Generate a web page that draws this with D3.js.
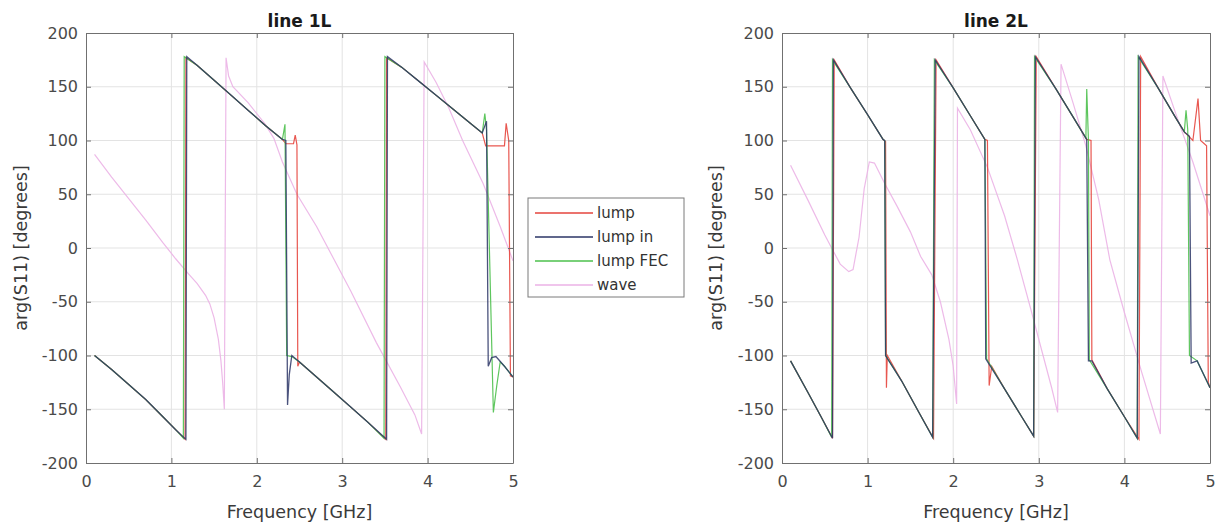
<!DOCTYPE html>
<html>
<head>
<meta charset="utf-8">
<script src="https://cdn.jsdelivr.net/npm/d3@7"></script>
<style>
  body { margin: 0; background: #fff; }
</style>
</head>
<body>
<div id="container"></div>
<script>
var freqTicks = [0, 1, 2, 3, 4, 5];
var degTicks = [-200, -150, -100, -50, 0, 50, 100, 150, 200];
var seriesNames = ["lump", "lump in", "lump FEC", "wave"];
var seriesColors = ["#e5453d", "#2b3566", "#4cc04c", "#ebb2e6"];

// line 1L, [frequency GHz, arg(S11) degrees]
var lump1L = [[0.1,-100],[0.3,-113],[0.5,-127],[0.7,-141],[0.9,-157],[1.05,-169],[1.16,-178],[1.17,177],[1.3,170],[1.5,156],[1.7,142],[1.9,128],[2.1,114],[2.3,101],[2.34,97],[2.43,97],[2.45,105],[2.47,96],[2.48,-110],[2.5,-106],[2.7,-120],[2.9,-134],[3.1,-148],[3.3,-162],[3.51,-178],[3.52,177],[3.7,168],[3.9,155],[4.1,142],[4.3,129],[4.5,116],[4.64,107],[4.68,95],[4.9,95],[4.92,116],[4.95,100],[4.97,-119],[5.0,-120]];
var lumpIn1L = [[0.1,-100],[0.3,-113],[0.5,-127],[0.7,-141],[0.9,-157],[1.05,-169],[1.17,-178],[1.18,178],[1.3,170],[1.5,156],[1.7,142],[1.9,128],[2.1,114],[2.3,101],[2.34,100],[2.36,-146],[2.38,-118],[2.41,-100],[2.5,-106],[2.7,-120],[2.9,-134],[3.1,-148],[3.3,-162],[3.52,-178],[3.53,178],[3.7,168],[3.9,155],[4.1,142],[4.3,129],[4.5,116],[4.64,107],[4.69,118],[4.71,-110],[4.75,-102],[4.8,-101],[4.9,-110],[5.0,-120]];
var lumpFEC1L = [[0.1,-100],[0.3,-113],[0.5,-127],[0.7,-141],[0.9,-157],[1.05,-169],[1.14,-177],[1.15,178],[1.3,170],[1.5,156],[1.7,142],[1.9,128],[2.1,114],[2.3,101],[2.33,115],[2.35,-100],[2.41,-101],[2.5,-106],[2.7,-120],[2.9,-134],[3.1,-148],[3.3,-162],[3.49,-177],[3.5,178],[3.7,168],[3.9,155],[4.1,142],[4.3,129],[4.5,116],[4.64,107],[4.67,125],[4.69,110],[4.77,-153],[4.81,-128],[4.85,-106],[4.9,-110],[5.0,-120]];
var wave1L = [[0.1,87],[0.3,66],[0.5,46],[0.7,26],[0.9,5],[1.05,-10],[1.2,-24],[1.3,-33],[1.4,-44],[1.45,-52],[1.5,-65],[1.55,-85],[1.58,-105],[1.6,-125],[1.62,-150],[1.64,177],[1.67,160],[1.72,150],[1.9,135],[2.1,115],[2.2,102],[2.3,80],[2.47,50],[2.7,20],[2.9,-10],[3.1,-40],[3.4,-88],[3.68,-129],[3.85,-155],[3.93,-173],[3.96,173],[4.1,154],[4.25,130],[4.41,100],[4.65,60],[4.85,20],[5.0,-12]];

// line 2L
var lump2L = [[0.1,-105],[0.3,-134],[0.45,-156],[0.59,-177],[0.61,175],[0.8,149],[1.0,124],[1.18,101],[1.21,99],[1.22,-130],[1.23,-100],[1.4,-124],[1.6,-153],[1.77,-177],[1.8,175],[2.0,149],[2.2,123],[2.37,101],[2.4,100],[2.42,-128],[2.45,-110],[2.6,-131],[2.8,-157],[2.94,-175],[2.97,178],[3.2,148],[3.4,122],[3.56,101],[3.61,100],[3.62,-104],[3.8,-131],[4.0,-157],[4.17,-178],[4.19,178],[4.4,148],[4.6,121],[4.7,108],[4.8,100],[4.86,139],[4.89,100],[4.96,95],[4.98,-125],[5.0,-130]];
var lumpIn2L = [[0.1,-105],[0.3,-134],[0.45,-156],[0.59,-177],[0.6,175],[0.8,149],[1.0,124],[1.18,101],[1.2,100],[1.21,-100],[1.4,-124],[1.6,-153],[1.76,-176],[1.79,175],[2.0,149],[2.2,123],[2.37,101],[2.38,-103],[2.6,-131],[2.8,-157],[2.94,-175],[2.96,178],[3.2,148],[3.4,122],[3.56,101],[3.58,-105],[3.62,-105],[3.8,-131],[4.0,-157],[4.15,-177],[4.17,178],[4.4,148],[4.6,121],[4.7,108],[4.76,104],[4.78,-107],[4.85,-105],[5.0,-130]];
var lumpFEC2L = [[0.1,-105],[0.3,-134],[0.45,-156],[0.58,-176],[0.59,175],[0.8,149],[1.0,124],[1.18,101],[1.2,100],[1.21,-100],[1.4,-124],[1.6,-153],[1.76,-176],[1.78,175],[2.0,149],[2.2,123],[2.37,101],[2.39,-103],[2.6,-131],[2.8,-157],[2.94,-175],[2.95,178],[3.2,148],[3.4,122],[3.55,102],[3.56,148],[3.58,100],[3.59,-104],[3.8,-131],[4.0,-157],[4.15,-177],[4.16,178],[4.4,148],[4.6,121],[4.7,108],[4.72,128],[4.74,110],[4.76,-100],[4.85,-105],[5.0,-130]];
var wave2L = [[0.1,77],[0.3,45],[0.5,12],[0.58,0],[0.68,-15],[0.78,-22],[0.83,-20],[0.9,10],[0.96,55],[1.02,80],[1.08,79],[1.2,60],[1.35,38],[1.5,15],[1.62,-8],[1.75,-25],[1.85,-50],[1.95,-85],[2.0,-110],[2.04,-145],[2.05,130],[2.2,110],[2.4,75],[2.6,30],[2.75,-11],[2.9,-55],[3.05,-100],[3.15,-130],[3.22,-153],[3.26,171],[3.4,135],[3.55,95],[3.7,45],[3.83,-11],[4.0,-60],[4.2,-115],[4.42,-173],[4.45,160],[4.6,125],[4.8,80],[5.0,30]];

var font = "DejaVu Sans, sans-serif";
var axisColor = "#707070";
var gridColor = "#e3e3e3";
var plotTop = 33, plotBottom = 463;

var svg = d3
  .select("#container")
  .append("svg")
  .attr("width", 1221)
  .attr("height", 531)
  .style("display", "block")
  .style("background-color", "#fff");

var panels = [
  { title: "line 1L", left: 86, right: 513, labelX: 27, series: [lump1L, lumpIn1L, lumpFEC1L, wave1L] },
  { title: "line 2L", left: 782, right: 1210, labelX: 722, series: [lump2L, lumpIn2L, lumpFEC2L, wave2L] }
];

// MATLAB prints a plain hyphen for negatives
var plainNum = d => String(d);

function styleAxis(sel) {
  sel.attr("font-family", font).attr("font-size", 16);
  sel.select(".domain").attr("stroke", axisColor);
  sel.selectAll(".tick line").attr("stroke", axisColor);
  sel.selectAll(".tick text").attr("fill", "#4a4a4a");
}

panels.forEach(function(p) {
  var x = d3.scaleLinear().domain([0, 5]).range([p.left, p.right]);
  var y = d3.scaleLinear().domain([-200, 200]).range([plotBottom, plotTop]);
  var g = svg.append("g");

  // grid
  g.append("g")
    .selectAll("line")
    .data(freqTicks.slice(1, -1))
    .enter()
    .append("line")
    .attr("x1", d => x(d))
    .attr("x2", d => x(d))
    .attr("y1", plotTop)
    .attr("y2", plotBottom)
    .attr("stroke", gridColor);
  g.append("g")
    .selectAll("line")
    .data(degTicks.slice(1, -1))
    .enter()
    .append("line")
    .attr("x1", p.left)
    .attr("x2", p.right)
    .attr("y1", d => y(d))
    .attr("y2", d => y(d))
    .attr("stroke", gridColor);

  // series: wave first, lump in on top so overlaps look dark
  var line = d3.line().x(d => x(d[0])).y(d => y(d[1]));
  var order = [3, 0, 2, 1];
  order.forEach(function(i) {
    g.append("path")
      .datum(p.series[i])
      .attr("d", line)
      .attr("fill", "none")
      .attr("stroke", seriesColors[i])
      .attr("stroke-width", i == 1 ? 1.3 : 1.2)
      .attr("stroke-opacity", i == 1 ? 0.85 : 0.9);
  });

  // axes (ticks inside, MATLAB box)
  g.append("g")
    .attr("transform", "translate(0," + plotBottom + ")")
    .call(d3.axisBottom(x).tickValues(freqTicks).tickFormat(plainNum).tickSizeInner(-5).tickSizeOuter(0).tickPadding(13))
    .call(styleAxis);
  g.append("g")
    .attr("transform", "translate(0," + plotTop + ")")
    .call(d3.axisTop(x).tickValues(freqTicks).tickSizeInner(-5).tickSizeOuter(0).tickFormat(""))
    .call(styleAxis);
  g.append("g")
    .attr("transform", "translate(" + p.left + ",0)")
    .call(d3.axisLeft(y).tickValues(degTicks).tickFormat(plainNum).tickSizeInner(-5).tickSizeOuter(0).tickPadding(8))
    .call(styleAxis);
  g.append("g")
    .attr("transform", "translate(" + p.right + ",0)")
    .call(d3.axisRight(y).tickValues(degTicks).tickSizeInner(-5).tickSizeOuter(0).tickFormat(""))
    .call(styleAxis);

  // labels
  g.append("text")
    .attr("x", (p.left + p.right) / 2)
    .attr("y", 27)
    .attr("text-anchor", "middle")
    .attr("font-family", font)
    .attr("font-weight", "bold")
    .attr("font-size", 17)
    .attr("fill", "#1a1a1a")
    .text(p.title);
  g.append("text")
    .attr("x", (p.left + p.right) / 2)
    .attr("y", 518)
    .attr("text-anchor", "middle")
    .attr("font-family", font)
    .attr("font-size", 17.5)
    .attr("fill", "#3a3a3a")
    .text("Frequency [GHz]");
  g.append("text")
    .attr("transform", "translate(" + p.labelX + "," + (plotTop + plotBottom) / 2 + ") rotate(-90)")
    .attr("text-anchor", "middle")
    .attr("font-family", font)
    .attr("font-size", 17.5)
    .attr("fill", "#3a3a3a")
    .text("arg(S11) [degrees]");
});

// legend
var legend = svg.append("g");
legend.append("rect")
  .attr("x", 528)
  .attr("y", 198)
  .attr("width", 156)
  .attr("height", 99)
  .attr("fill", "#fff")
  .attr("stroke", "#7a7a7a");
var item = legend
  .selectAll("g.item")
  .data(seriesNames)
  .enter()
  .append("g")
  .attr("class", "item")
  .attr("transform", (d, i) => "translate(0," + (213 + i * 24) + ")");
item.append("line")
  .attr("x1", 535)
  .attr("x2", 593)
  .attr("stroke", (d, i) => seriesColors[i])
  .attr("stroke-width", 1.3);
item.append("text")
  .attr("x", 597)
  .attr("dy", "0.35em")
  .attr("font-family", font)
  .attr("font-size", 15)
  .attr("fill", "#333")
  .text(d => d);
</script>
</body>
</html>
